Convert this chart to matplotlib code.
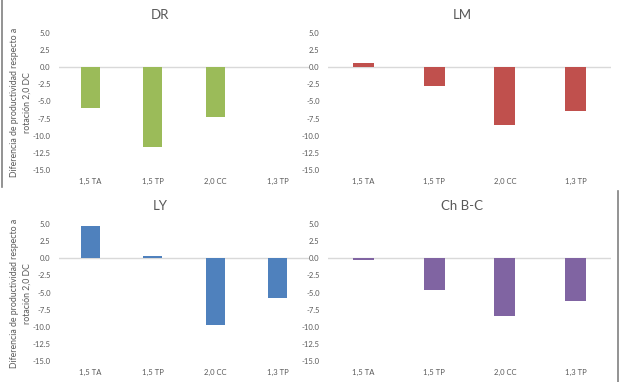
import numpy as np
import matplotlib
matplotlib.use("Agg")
import matplotlib.pyplot as plt
from matplotlib.lines import Line2D

categories = ["1,5 TA", "1,5 TP", "2,0 CC", "1,3 TP"]
dr = [-6.0, -11.7, -7.3, np.nan]
lm = [0.6, -2.8, -8.5, -6.4]
ly = [4.7, 0.4, -9.7, -5.8]
chbc = [-0.3, -4.7, -8.5, -6.2]
titles = ["DR", "LM", "LY", "Ch B-C"]
yticks = [5.0, 2.5, 0.0, -2.5, -5.0, -7.5, -10.0, -12.5, -15.0]
ylabel = "Diferencia de productividad respecto a\nrotación 2,0 DC"

colors = ["#9BBB59", "#C0504D", "#4F81BD", "#8064A2"]
txt = "#595959"
plt.rcParams['font.family'] = ['Lato', 'DejaVu Sans']

W, H = 620, 382
fig = plt.figure(figsize=(W / 100, H / 100), dpi=100)

def fx(px):
    return px / W

def fy(py):
    return 1 - py / H

panels = [
    (dr, 59, 309, 33, 170, 160, 15, True),
    (lm, 328, 611, 33, 170, 462, 15, False),
    (ly, 59, 309, 224, 361, 160, 206, True),
    (chbc, 328, 611, 224, 361, 462, 206, False),
]

for i, (vals, x0, x1, y0, y1, tx, ty, showlab) in enumerate(panels):
    ax = fig.add_axes([fx(x0), fy(y1), fx(x1 - x0), (y1 - y0) / H])
    x = np.arange(len(categories))
    ax.bar(x, vals, width=0.3, color=colors[i], zorder=3)
    ax.axhline(0, color="#D9D9D9", lw=1, zorder=2)
    ax.set_xlim(-0.5, len(categories) - 0.5)
    ax.set_ylim(-15, 5)
    ax.set_yticks(yticks)
    ax.set_yticklabels([f"{v:.1f}" for v in yticks])
    ax.set_xticks(x)
    ax.set_xticklabels(categories)
    for s in ax.spines.values():
        s.set_visible(False)
    ax.tick_params(axis='both', length=0, colors=txt, labelsize=5.5)
    ax.tick_params(axis='y', pad=6)
    ax.tick_params(axis='x', pad=6)
    fig.text(fx(tx), fy(ty), titles[i], ha='center', va='center',
             fontsize=9.5, color=txt)
    if showlab:
        fig.text(fx(21), fy((y0 + y1) / 2 + 1), ylabel, rotation=90,
                 ha='center', va='center', fontsize=6.3, color=txt,
                 linespacing=1.5, multialignment='center')

fig.add_artist(Line2D([fx(2), fx(2)], [fy(0), fy(187)], color="#808080", lw=1.2))
fig.add_artist(Line2D([fx(618), fx(618)], [fy(191), fy(382)], color="#808080", lw=1.2))

fig.savefig("out.png", dpi=100)
